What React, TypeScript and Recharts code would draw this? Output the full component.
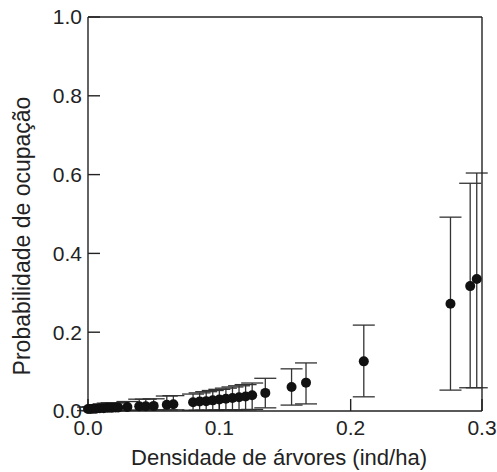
import { ErrorBar, Scatter, ScatterChart, XAxis, YAxis } from "recharts";

// densidade (ind/ha), probabilidade estimada e limites do intervalo
const densidade = [
  0.0, 0.002, 0.004, 0.006, 0.009, 0.012, 0.015, 0.018, 0.021, 0.023,
  0.03, 0.039, 0.044, 0.05, 0.06, 0.065,
  0.08, 0.085, 0.09, 0.095, 0.1, 0.105, 0.11, 0.115, 0.12, 0.125,
  0.135, 0.155, 0.166, 0.21, 0.276, 0.291, 0.296,
];
const probabilidade = [
  0.005, 0.005, 0.006, 0.006, 0.007, 0.007, 0.008, 0.008, 0.009, 0.009,
  0.01, 0.012, 0.012, 0.013, 0.016, 0.017,
  0.022, 0.024, 0.025, 0.027, 0.029, 0.031, 0.033, 0.035, 0.037, 0.04,
  0.046, 0.061, 0.072, 0.126, 0.272, 0.317, 0.335,
];
const limiteInferior = [
  0.001, 0.001, 0.001, 0.001, 0.001, 0.001, 0.001, 0.001, 0.001, 0.001,
  0.002, 0.002, 0.002, 0.003, 0.003, 0.003,
  0.002, 0.002, 0.002, 0.002, 0.003, 0.003, 0.003, 0.003, 0.003, 0.004,
  0.008, 0.015, 0.018, 0.036, 0.053, 0.059, 0.059,
];
const limiteSuperior = [
  0.01, 0.01, 0.011, 0.012, 0.014, 0.018, 0.02, 0.021, 0.021, 0.021,
  0.024, 0.03, 0.03, 0.031, 0.038, 0.039,
  0.043, 0.046, 0.049, 0.052, 0.055, 0.058, 0.061, 0.064, 0.067, 0.071,
  0.083, 0.107, 0.122, 0.218, 0.492, 0.578, 0.604,
];

const xTicks = [0, 0.1, 0.2, 0.3];
const yTicks = [0, 0.2, 0.4, 0.6, 0.8, 1.0];

const data = densidade.map((x, i) => ({
  x,
  y: probabilidade[i],
  err: [probabilidade[i] - limiteInferior[i], limiteSuperior[i] - probabilidade[i]],
}));

const FONT = "'Liberation Sans', Arial, sans-serif";
const tickStyle = { fill: "#222", fontSize: 21, fontFamily: FONT };
const axisLine = { stroke: "#222", strokeWidth: 1.4 };

const Dot = (props: any) => {
  const { cx, cy } = props;
  if (cx == null || cy == null) return null;
  return <circle cx={cx} cy={cy} r={5} fill="#111" />;
};

export default function App() {
  return (
    <div style={{ position: "absolute", left: 0, top: 0 }}>
      <ScatterChart
        width={497}
        height={472}
        margin={{ top: 0, right: 0, bottom: 0, left: 0 }}
        style={{ fontFamily: FONT }}
      >
        <XAxis
          xAxisId="b"
          dataKey="x"
          type="number"
          domain={[0, 0.3]}
          ticks={xTicks}
          height={61}
          tickSize={-12}
          tickMargin={21}
          tick={tickStyle}
          tickLine={axisLine}
          axisLine={axisLine}
          tickFormatter={(v: number) => v.toFixed(1)}
          label={{
            value: "Densidade de árvores (ind/ha)",
            position: "center",
            dy: 16,
            dx: -6,
            fill: "#222",
            fontSize: 22,
            fontFamily: FONT,
          }}
        />
        <XAxis
          xAxisId="t"
          orientation="top"
          type="number"
          domain={[0, 0.3]}
          ticks={xTicks}
          height={17}
          tickSize={-12}
          tick={false}
          tickLine={axisLine}
          axisLine={axisLine}
        />
        <YAxis
          yAxisId="l"
          dataKey="y"
          type="number"
          domain={[0, 1]}
          ticks={yTicks}
          width={88}
          tickSize={-12}
          tickMargin={18}
          tick={tickStyle}
          tickLine={axisLine}
          axisLine={axisLine}
          tickFormatter={(v: number) => v.toFixed(1)}
          label={{
            value: "Probabilidade de ocupação",
            angle: -90,
            position: "center",
            dx: -22,
            dy: 22,
            fill: "#222",
            fontSize: 23,
            fontFamily: FONT,
          }}
        />
        <YAxis
          yAxisId="r"
          orientation="right"
          type="number"
          domain={[0, 1]}
          ticks={yTicks}
          width={15}
          tickSize={-12}
          tick={false}
          tickLine={axisLine}
          axisLine={axisLine}
        />
        <Scatter
          data={data}
          xAxisId="b"
          yAxisId="l"
          shape={<Dot />}
          isAnimationActive={false}
        >
          <ErrorBar
            dataKey="err"
            direction="y"
            width={11}
            stroke="#333"
            strokeWidth={1.3}
            isAnimationActive={false}
          />
        </Scatter>
      </ScatterChart>
    </div>
  );
}
